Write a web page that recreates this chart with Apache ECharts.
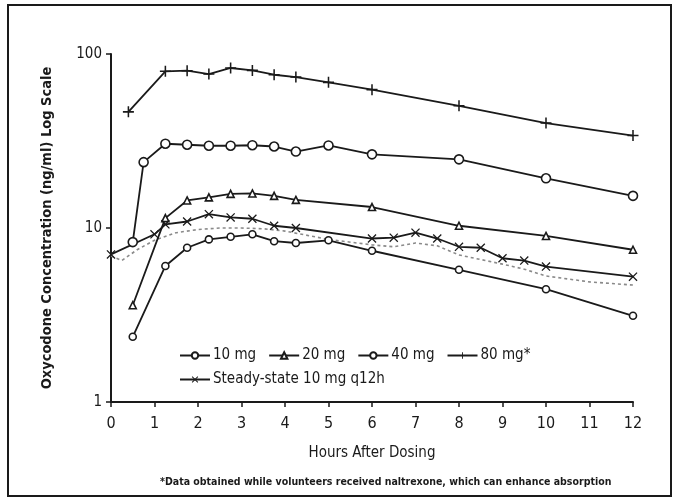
<!DOCTYPE html>
<html>
<head>
<meta charset="utf-8">
<script src="https://cdn.jsdelivr.net/npm/echarts@6/dist/echarts.min.js"></script>
<style>
  html, body { margin: 0; padding: 0; background: #fff; }
  #chart { width: 673px; height: 501px; }
</style>
</head>
<body>
<div id="chart"></div>
<script>
// hours after dosing and concentrations (ng/ml)
const hours10 = [0.5, 1.25, 1.75, 2.25, 2.75, 3.25, 3.75, 4.25, 5, 6, 8, 10, 12];
const conc10  = [2.37, 6.05, 7.7, 8.6, 8.9, 9.2, 8.4, 8.2, 8.5, 7.4, 5.75, 4.45, 3.13];

const hours20 = [0.5, 1.25, 1.75, 2.25, 2.75, 3.25, 3.75, 4.25, 6, 8, 10, 12];
const conc20  = [3.6, 11.4, 14.4, 15.0, 15.7, 15.8, 15.3, 14.5, 13.2, 10.3, 9.0, 7.5];

const hours40 = [0.5, 0.75, 1.25, 1.75, 2.25, 2.75, 3.25, 3.75, 4.25, 5, 6, 8, 10, 12];
const conc40  = [8.3, 23.9, 30.5, 30.1, 29.7, 29.7, 29.9, 29.4, 27.5, 29.8, 26.5, 24.8, 19.3, 15.3];

const hours80 = [0.4, 1.25, 1.75, 2.25, 2.75, 3.25, 3.75, 4.25, 5, 6, 8, 10, 12];
const conc80  = [46.5, 79.5, 80.2, 76.7, 83.1, 80.5, 76.0, 73.7, 68.7, 62.4, 50.4, 40.1, 34.0];

const hoursSS = [0, 1, 1.25, 1.75, 2.25, 2.75, 3.25, 3.75, 4.25, 6, 6.5, 7, 7.5, 8, 8.5, 9, 9.5, 10, 12];
const concSS  = [7.05, 9.2, 10.5, 10.9, 12.0, 11.5, 11.3, 10.3, 10.0, 8.7, 8.8, 9.4, 8.7, 7.8, 7.7, 6.7, 6.5, 6.0, 5.25];

const hoursDot = [0, 0.25, 0.6, 1, 1.5, 2, 2.5, 3, 3.5, 4, 5, 6, 6.5, 7, 7.5, 8, 9, 9.5, 10, 11, 12];
const concDot  = [6.9, 6.5, 7.5, 8.5, 9.4, 9.8, 10.0, 10.0, 9.9, 9.6, 8.6, 8.0, 7.8, 8.2, 7.9, 7.0, 6.2, 5.8, 5.3, 4.9, 4.7];

const xTicks = [0, 1, 2, 3, 4, 5, 6, 7, 8, 9, 10, 11, 12];

const FONT = "'DejaVu Sans Condensed', 'Liberation Sans Narrow', 'DejaVu Sans', sans-serif";
const INK = '#1a1a1a';

const PLUS = 'path://M0,4.3 L10,4.3 L10,5.7 L0,5.7 Z M4.3,0 L5.7,0 L5.7,10 L4.3,10 Z';
const CROSS = 'path://M0,1 L1,0 L10,9 L9,10 Z M9,0 L10,1 L1,10 L0,9 Z';

function pairs(xs, ys) {
  return xs.map((x, i) => [x, ys[i]]);
}

function lineSeries(name, xs, ys, symbol, size, extra) {
  return Object.assign({
    name: name,
    type: 'line',
    data: pairs(xs, ys),
    symbol: symbol,
    symbolSize: size,
    showAllSymbol: true,
    lineStyle: { color: INK, width: 1.8 },
    itemStyle: { color: '#fff', borderColor: INK, borderWidth: 1.6 },
    emphasis: { disabled: true },
    z: 3
  }, extra || {});
}

const chart = echarts.init(document.getElementById('chart'), null, { renderer: 'canvas' });

const legendText = { fontFamily: FONT, fontSize: 15, color: INK, padding: [0, 0, 0, -2] };

const option = {
  backgroundColor: '#fff',
  animation: false,
  textStyle: { fontFamily: FONT, color: INK },
  grid: { left: 111, right: 40, top: 54, bottom: 99 },
  graphic: [
    {
      type: 'rect',
      shape: { x: 8, y: 5, width: 663, height: 491 },
      style: { fill: 'none', stroke: INK, lineWidth: 2 },
      silent: true
    },
    {
      type: 'text',
      left: 160,
      top: 477,
      style: {
        text: '*Data obtained while volunteers received naltrexone, which can enhance absorption',
        font: 'bold 10.5px ' + FONT,
        fill: INK
      }
    }
  ],
  legend: [
    {
      data: ['10 mg', '20 mg', '40 mg', '80 mg*'],
      left: 174, top: 343,
      itemWidth: 30, itemHeight: 8, itemGap: 12,
      textStyle: legendText
    },
    {
      data: ['Steady-state 10 mg q12h'],
      left: 174, top: 367,
      itemWidth: 30, itemHeight: 8,
      textStyle: legendText
    }
  ],
  xAxis: {
    type: 'value',
    min: 0, max: 12, interval: 1,
    name: 'Hours After Dosing',
    nameLocation: 'middle',
    nameGap: 44,
    nameTextStyle: { fontFamily: FONT, fontSize: 15, color: INK },
    axisLine: { lineStyle: { color: INK, width: 2 } },
    axisTick: { show: true, length: 5, lineStyle: { color: INK, width: 1.5 } },
    axisLabel: {
      fontFamily: FONT, fontSize: 16, color: INK, margin: 14,
      formatter: v => xTicks.indexOf(v) >= 0 ? String(v) : ''
    },
    splitLine: { show: false }
  },
  yAxis: {
    type: 'log',
    logBase: 10,
    min: 1, max: 100,
    name: 'Oxycodone Concentration (ng/ml) Log Scale',
    nameLocation: 'middle',
    nameGap: 56,
    nameRotate: 90,
    nameTextStyle: { fontFamily: FONT, fontSize: 14.5, fontWeight: 'bold', color: INK },
    axisLine: { show: true, lineStyle: { color: INK, width: 2 } },
    axisTick: { show: true, length: 5, lineStyle: { color: INK, width: 1.5 } },
    minorTick: { show: false },
    axisLabel: { fontFamily: FONT, fontSize: 15, color: INK, margin: 9 },
    splitLine: { show: false }
  },
  series: [
    lineSeries('10 mg', hours10, conc10, 'circle', 7),
    lineSeries('20 mg', hours20, conc20, 'triangle', 7),
    lineSeries('40 mg', hours40, conc40, 'circle', 9),
    lineSeries('80 mg*', hours80, conc80, PLUS, 11, { itemStyle: { color: INK } }),
    lineSeries('Steady-state 10 mg q12h', hoursSS, concSS, CROSS, 9, { itemStyle: { color: INK } }),
    {
      name: 'Steady-state 10 mg q12h',
      type: 'line',
      data: pairs(hoursDot, concDot),
      symbol: 'none',
      lineStyle: { color: '#8a8a8a', width: 1.6, type: [3, 3] },
      emphasis: { disabled: true },
      z: 2
    }
  ]
};

chart.setOption(option);
</script>
</body>
</html>
